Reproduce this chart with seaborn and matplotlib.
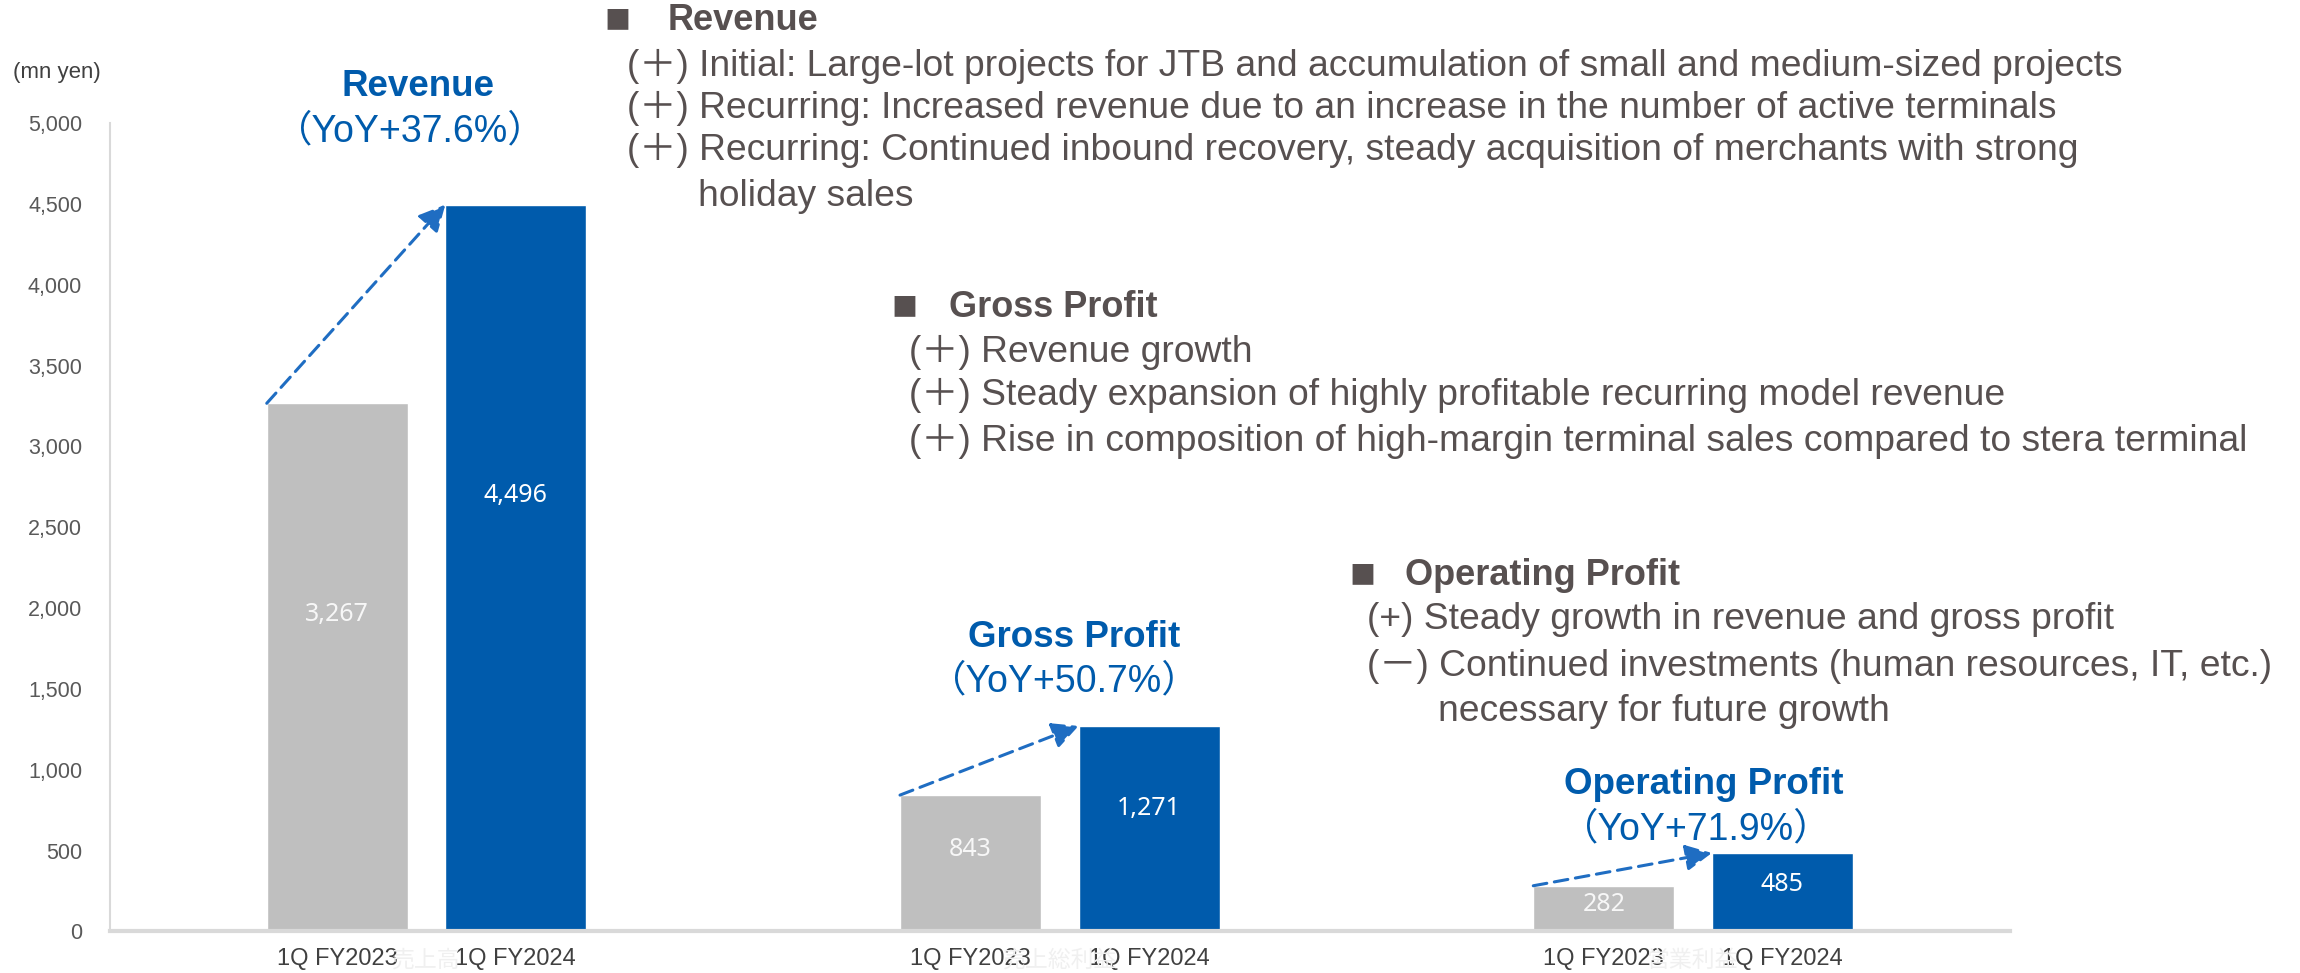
import matplotlib
matplotlib.use("Agg")
import matplotlib.pyplot as plt
import seaborn as sns
import pandas as pd

# values (mn yen)
groups = ["売上高", "売上総利益", "営業利益"]
titles = ["Revenue", "Gross Profit", "Operating Profit"]
periods = ["1Q FY2023", "1Q FY2024"]
fy2023 = [3267, 843, 282]
fy2024 = [4496, 1271, 485]
yoy = ["37.6%", "50.7%", "71.9%"]

df = pd.DataFrame({
    "group": groups * 2,
    "period": [periods[0]] * 3 + [periods[1]] * 3,
    "value": fy2023 + fy2024,
})

GRAY = "#bfbfbf"
BLUE = "#005bac"
ARROW = "#1f6dc2"
TXT = "#575050"
FAM = ["Liberation Sans", "Noto Sans CJK JP", "DejaVu Sans"]

sns.set_theme(style="white")
plt.rcParams["font.family"] = FAM

fig = plt.figure(figsize=(23, 9.73), dpi=100)
ax = fig.add_axes([0.0478, 0.0428, 0.826, 0.8306])
sns.barplot(data=df, x="group", y="value", hue="period", order=groups,
            hue_order=periods, palette=[GRAY, BLUE], saturation=1,
            width=0.564, gap=0.21, errorbar=None, legend=False, ax=ax)

ax.set_xlim(-0.5, 2.5)
ax.set_ylim(0, 5000)
ax.set_yticks(range(0, 5001, 500))
ax.set_yticklabels([f"{v:,}" for v in range(0, 5001, 500)])
ax.set_xlabel("")
ax.set_ylabel("")
for s in ["top", "right"]:
    ax.spines[s].set_visible(False)
ax.spines["left"].set_color("#d9d9d9")
ax.spines["left"].set_linewidth(1.5)
ax.spines["bottom"].set_color("#d9d9d9")
ax.spines["bottom"].set_linewidth(3)
ax.tick_params(axis="y", length=0, pad=20, labelsize=15.5, labelcolor="#595959")
ax.tick_params(axis="x", length=0, pad=12, labelsize=17, labelcolor="#404040")

old_bars, new_bars = ax.containers[0], ax.containers[1]
centers = [p.get_x() + p.get_width() / 2 for c in (old_bars, new_bars) for p in c]
ax.set_xticks(centers, [periods[k] for k in range(2) for _ in groups])

# value labels inside the bars
for c, col in ((old_bars, "#f7f7f7"), (new_bars, "white")):
    for p in c:
        h = p.get_height()
        ax.text(p.get_x() + p.get_width() / 2, h * 0.6, f"{int(h):,}",
                ha="center", va="center", color=col, fontsize=18, family="Noto Sans")

# faint category names hidden behind the period labels
for i, g in enumerate(groups):
    ax.annotate(g, xy=(i, 0), xytext=(0, -21), textcoords="offset points",
                ha="center", va="center", fontsize=16.5, color="#f0f0f0",
                family="Noto Sans CJK JP", annotation_clip=False)

# dashed growth arrows + titles
yoy_gap = [53, 32, 17]
title_dx = [-6, 10, 8]
yoy_dx = [-12, 3, 2]
for i in range(3):
    g, b = old_bars[i], new_bars[i]
    ax.annotate("", xy=(b.get_x(), b.get_height()), xytext=(g.get_x(), g.get_height()),
                arrowprops=dict(arrowstyle="-|>,head_length=0.8,head_width=0.4",
                                linestyle=(0, (4.5, 2.5)), lw=2.2, color=ARROW,
                                shrinkA=0, shrinkB=0, mutation_scale=20))
    top = max(fy2023[i], fy2024[i])
    ax.annotate(f"（YoY+{yoy[i]}）", xy=(i, top), xytext=(yoy_dx[i], yoy_gap[i]),
                textcoords="offset points", ha="center", va="center",
                fontsize=27, color=BLUE, family=FAM, annotation_clip=False)
    ax.annotate(titles[i], xy=(i, top), xytext=(title_dx[i], yoy_gap[i] + 32),
                textcoords="offset points", ha="center", va="center",
                fontsize=26.5, fontweight="bold", color=BLUE, annotation_clip=False)

fig.text(0.0057, 0.925, "(mn yen)", fontsize=16, color="#404040", va="center")

# commentary blocks
blocks = [
    (0.263, 0.2904, 0.979, "Revenue", 0.2726, [
        (0.932, "(＋) Initial: Large-lot projects for JTB and accumulation of small and medium-sized projects"),
        (0.888, "(＋) Recurring: Increased revenue due to an increase in the number of active terminals"),
        (0.845, "(＋) Recurring: Continued inbound recovery, steady acquisition of merchants with strong"),
    ]),
    (0.3875, 0.4125, 0.684, "Gross Profit", 0.3954, [
        (0.638, "(＋) Revenue growth"),
        (0.594, "(＋) Steady expansion of highly profitable recurring model revenue"),
        (0.546, "(＋) Rise in composition of high-margin terminal sales compared to stera terminal"),
    ]),
    (0.5865, 0.6108, 0.409, "Operating Profit", 0.5944, [
        (0.3635, "(+) Steady growth in revenue and gross profit"),
        (0.315, "(－) Continued investments (human resources, IT, etc.)"),
    ]),
]
for sq_x, hd_x, hd_y, head, body_x, lines in blocks:
    fig.text(sq_x, hd_y, "■", fontsize=31, color=TXT, va="center", family=FAM)
    fig.text(hd_x, hd_y, head, fontsize=26, fontweight="bold", color=TXT, va="center")
    for y, s in lines:
        fig.text(body_x, y, s, fontsize=26.8, color=TXT, va="center", family=FAM)
fig.text(0.3036, 0.798, "holiday sales", fontsize=26.8, color=TXT, va="center")
fig.text(0.625, 0.2685, "necessary for future growth", fontsize=26.8, color=TXT, va="center")

fig.savefig("out.png", dpi=100, facecolor="white")
